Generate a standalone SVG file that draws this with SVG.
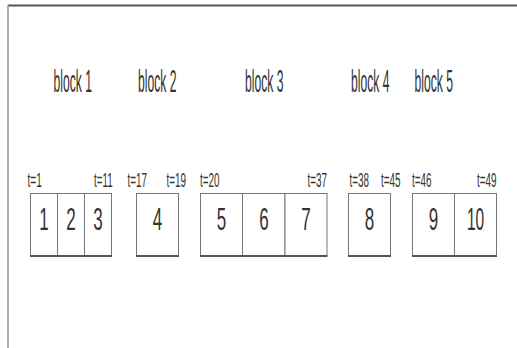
<svg xmlns="http://www.w3.org/2000/svg" width="517" height="348" viewBox="0 0 517 348">
<style>
text{font-family:"Liberation Sans",Arial,sans-serif;fill:#333;}
.lbl{font-size:32px;}
.t{font-size:21px;}
.n{font-size:31px;text-anchor:middle;}
.cell{fill:#fff;stroke:#777;stroke-width:1;}
.base{stroke:#555;stroke-width:2;}
</style>
<rect width="517" height="348" fill="#fff"/>
<g id="frame">
<line x1="8" y1="5.5" x2="517" y2="5.5" stroke="#555" stroke-width="2"/>
<line x1="8" y1="5" x2="8" y2="348" stroke="#999" stroke-width="1.5"/>
</g>
<g id="block1">
<text class="lbl" transform="translate(53.5,92) scale(0.38,1)">block 1</text>
<text class="t" transform="translate(27.5,186.5) scale(0.48,1)">t=1</text>
<text class="t" transform="translate(94,186.5) scale(0.47,1)">t=11</text>
<rect class="cell" x="30.5" y="193.5" width="27" height="62"/>
<rect class="cell" x="57.5" y="193.5" width="27" height="62"/>
<rect class="cell" x="84.5" y="193.5" width="27" height="62"/>
<line class="base" x1="30" y1="256" x2="112" y2="256"/>
<text class="n" transform="translate(44,230) scale(0.55,1)">1</text>
<text class="n" transform="translate(71,230) scale(0.55,1)">2</text>
<text class="n" transform="translate(98,230) scale(0.55,1)">3</text>
</g>
<g id="block2">
<text class="lbl" transform="translate(138,92) scale(0.38,1)">block 2</text>
<text class="t" transform="translate(127.5,186.5) scale(0.47,1)">t=17</text>
<text class="t" transform="translate(166.5,186.5) scale(0.47,1)">t=19</text>
<rect class="cell" x="136.5" y="193.5" width="42" height="62"/>
<line class="base" x1="136" y1="256" x2="179" y2="256"/>
<text class="n" transform="translate(157.5,230) scale(0.55,1)">4</text>
</g>
<g id="block3">
<text class="lbl" transform="translate(245,92) scale(0.38,1)">block 3</text>
<text class="t" transform="translate(200,186.5) scale(0.47,1)">t=20</text>
<text class="t" transform="translate(307.5,186.5) scale(0.47,1)">t=37</text>
<rect class="cell" x="200.5" y="193.5" width="42" height="62"/>
<rect class="cell" x="242.5" y="193.5" width="42.5" height="62"/>
<rect class="cell" x="285" y="193.5" width="42" height="62"/>
<line class="base" x1="200" y1="256" x2="327.5" y2="256"/>
<text class="n" transform="translate(221.5,230) scale(0.55,1)">5</text>
<text class="n" transform="translate(264,230) scale(0.55,1)">6</text>
<text class="n" transform="translate(306,230) scale(0.55,1)">7</text>
</g>
<g id="block4">
<text class="lbl" transform="translate(351,92) scale(0.38,1)">block 4</text>
<text class="t" transform="translate(349.5,186.5) scale(0.47,1)">t=38</text>
<text class="t" transform="translate(381,186.5) scale(0.47,1)">t=45</text>
<rect class="cell" x="348.5" y="193.5" width="42" height="62"/>
<line class="base" x1="348" y1="256" x2="391" y2="256"/>
<text class="n" transform="translate(369.5,230) scale(0.55,1)">8</text>
</g>
<g id="block5">
<text class="lbl" transform="translate(414.5,92) scale(0.38,1)">block 5</text>
<text class="t" transform="translate(412,186.5) scale(0.47,1)">t=46</text>
<text class="t" transform="translate(477,186.5) scale(0.47,1)">t=49</text>
<rect class="cell" x="412.5" y="193.5" width="42" height="62"/>
<rect class="cell" x="454.5" y="193.5" width="42" height="62"/>
<line class="base" x1="412" y1="256" x2="497" y2="256"/>
<text class="n" transform="translate(433.5,230) scale(0.55,1)">9</text>
<text class="n" transform="translate(475.5,230) scale(0.5,1)">10</text>
</g>
</svg>
